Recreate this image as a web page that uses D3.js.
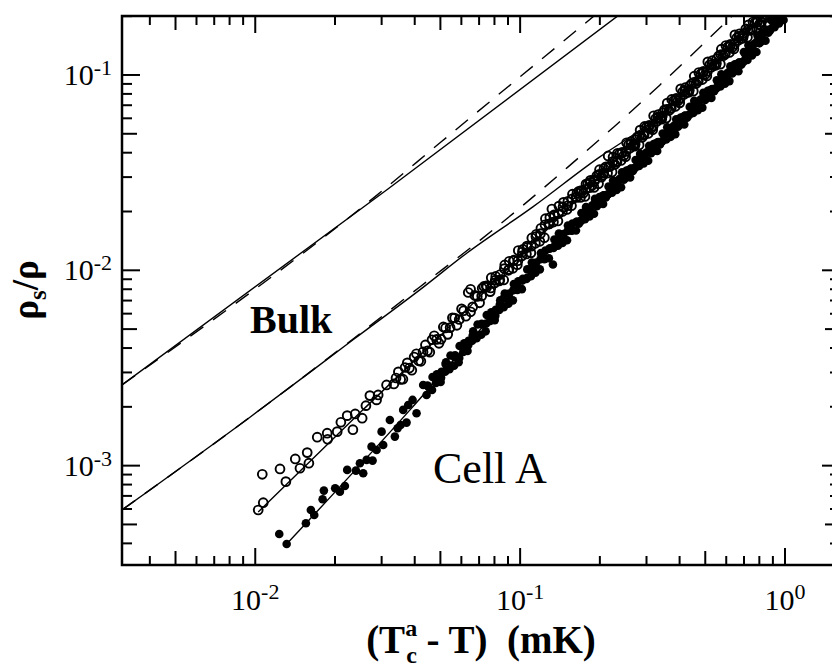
<!DOCTYPE html>
<html>
<head>
<meta charset="utf-8">
<script src="https://cdn.jsdelivr.net/npm/d3@7"></script>
<style>
  body { margin: 0; background: #fff; }
  text { font-family: "Liberation Serif", "Times New Roman", serif; fill: #000; }
</style>
</head>
<body>
<div id="chart"></div>
<script>
// Tick labels (decades only, as superscripted powers of ten)
const xMajor = [0.01, 0.1, 1];
const xExp = ["-2", "-1", "0"];
const yMajor = [0.001, 0.01, 0.1];
const yExp = ["-3", "-2", "-1"];

// Theory curves, [T - T_c (mK), rho_s/rho]
const bulkSolid = [[0.00314, 0.00259], [0.0316, 0.0260], [0.233, 0.200]];
const bulkDashed = [[0.00314, 0.00259], [0.0282, 0.0237], [0.0501, 0.0452], [0.0794, 0.0757], [0.1259, 0.1265],
  [0.1914, 0.202]];
const cellSolid = [[0.00314, 5.93e-4], [0.00955, 1.77e-3], [0.0234, 4.41e-3], [0.0418, 7.94e-3], [0.0630, 0.01227],
  [0.1117, 0.02113], [0.200, 0.0381], [0.278, 0.0512], [0.40, 0.0745]];
const cellDashed = [[0.00314, 5.93e-4], [0.00955, 1.77e-3], [0.0234, 4.45e-3], [0.0418, 8.22e-3], [0.0705, 0.01423],
  [0.106, 0.02234], [0.151, 0.03365], [0.2275, 0.0547], [0.3365, 0.0887], [0.481, 0.1403], [0.63, 0.200]];

// fits through the two data sets
const openFit = [[0.01026, 5.79e-4], [0.0255, 1.93e-3], [0.0503, 0.00467], [0.1020, 0.0121], [0.2066, 0.0315],
  [0.4025, 0.0774], [0.8482, 0.205]];
const filledFit = [[0.01314, 3.97e-4], [0.0384, 1.93e-3], [0.0745, 0.00539], [0.1291, 0.0126], [0.2417, 0.0292],
  [0.5094, 0.0787], [0.9542, 0.199]];

// measured points (open circles)
const openPts = [
  // sparse low end
  [0.01026,5.93e-4],[0.01072,6.46e-4],[0.01063,9.03e-4],[0.01240,9.62e-4],[0.01305,8.28e-4],[0.01416,1.082e-3],
  [0.01475,9.70e-4],[0.01571,1.166e-3],[0.01594,1.029e-3],[0.01714,1.398e-3],[0.01869,1.466e-3],[0.01876,1.365e-3],
  [0.02039,1.493e-3],[0.02105,1.668e-3],[0.02224,1.803e-3],[0.02337,1.528e-3],[0.02384,1.839e-3],[0.02533,1.749e-3],
  [0.02617,2.028e-3],[0.02709,2.283e-3],[0.02871,2.170e-3],[0.02911,2.301e-3],[0.03131,2.589e-3],[0.03337,2.620e-3],
  // main run
  [0.0340,0.00281],[0.0354,0.00276],[0.0368,0.00318],[0.0382,0.00316],[0.0398,0.00360],[0.0414,0.00344],[0.0430,0.00382],
  [0.0447,0.00387],[0.0465,0.00441],[0.0484,0.00443],[0.0503,0.00444],[0.0523,0.00507],[0.0544,0.00509],[0.0566,0.00570],
  [0.0589,0.00560],[0.0612,0.00621],[0.0637,0.00770],[0.0650,0.00800],[0.0662,0.00650],[0.0689,0.00735],[0.0716,0.00738],
  [0.0745,0.00833],[0.0775,0.00812],[0.0806,0.00891],[0.0838,0.00893],[0.0872,0.0102],[0.0907,0.0101],[0.0943,0.0112],
  [0.0981,0.0112],[0.1020,0.0124],[0.1061,0.0133],[0.1103,0.0133],[0.1147,0.0149],[0.1193,0.0154],[0.1241,0.0171],
  [0.1291,0.0173],[0.1318,0.0206],[0.1342,0.0192],[0.1396,0.0195],[0.1452,0.0211],[0.1510,0.0214],[0.1570,0.0232],
  [0.1633,0.0236],[0.1666,0.0254],[0.1698,0.0256],[0.1732,0.0248],[0.1766,0.0260],[0.1801,0.0277],[0.1837,0.0282],
  [0.1874,0.0273],[0.1910,0.0286],[0.1948,0.0305],[0.1987,0.0310],[0.2027,0.0300],[0.2066,0.0315],[0.2107,0.0339],
  [0.2149,0.0385],[0.2192,0.0341],[0.2235,0.0360],[0.2280,0.0348],[0.2324,0.0362],[0.2370,0.0394],[0.2417,0.0397],
  [0.2465,0.0387],[0.2514,0.0406],[0.2564,0.0438],[0.2615,0.0445],[0.2667,0.0435],[0.2719,0.0442],[0.2773,0.0482],
  [0.2828,0.0490],[0.2884,0.0479],[0.2941,0.0497],[0.3000,0.0541],[0.3059,0.0540],[0.3120,0.0532],[0.3181,0.0547],
  [0.3245,0.0596],[0.3308,0.0606],[0.3374,0.0598],[0.3441,0.0614],[0.3510,0.0663],[0.3578,0.0667],[0.3650,0.0658],
  [0.3722,0.0676],[0.3796,0.0737],[0.3870,0.0742],[0.3947,0.0739],[0.4025,0.0759],[0.4106,0.0819],[0.4186,0.0833],
  [0.4270,0.0813],[0.4354,0.0835],[0.4441,0.0902],[0.4528,0.0917],[0.4619,0.0904],[0.4709,0.0938],[0.4803,0.1012],
  [0.4898,0.1029],[0.4996,0.1005],[0.5094,0.1043],[0.5196,0.1126],[0.5297,0.1133],[0.5403,0.1117],[0.5509,0.1148],
  [0.5619,0.1251],[0.5730,0.1273],[0.5845,0.1255],[0.5959,0.1290],[0.6078,0.1392],[0.6197,0.1401],[0.6321,0.1381],
  [0.6445,0.1434],[0.6574,0.1547],[0.6703,0.1573],[0.6837,0.1536],[0.6971,0.1593],[0.7110,0.1720],[0.7250,0.1700],
  [0.7395,0.1690],[0.7540,0.1720],[0.7691,0.1850],[0.7842,0.1870],[0.7999,0.1820],[0.8155,0.1870],[0.8318,0.2000],
  [0.8482,0.2030],[0.8822,0.2122],
  // scatter on either side of the run
  [0.0347,0.00302],[0.0361,0.00277],[0.0375,0.00336],[0.0390,0.00308],[0.0406,0.00374],[0.0422,0.00342],
  [0.0439,0.00415],[0.0456,0.00381],[0.0474,0.00462],[0.0494,0.00423],[0.0513,0.00513],[0.0533,0.00470],
  [0.0555,0.00571],[0.0577,0.00523],[0.0601,0.00635],[0.0624,0.00582],[0.0650,0.00613],[0.0675,0.00744],
  [0.0703,0.00682],[0.0730,0.00827],
  [0.0719,0.00809],[0.0771,0.00778],[0.0748,0.00820],[0.0802,0.00862],[0.0778,0.00917],[0.0834,0.00882],
  [0.0809,0.00930],[0.0867,0.00893],[0.0841,0.00951],[0.0903,0.01000],[0.0875,0.01065],[0.0939,0.01024],
  [0.0910,0.01112],[0.0976,0.01068],[0.0947,0.01127],[0.1015,0.01185],[0.0984,0.01262],[0.1056,0.01213],
  [0.1024,0.01279],[0.1098,0.01228],[0.1064,0.01308],[0.1142,0.01375],[0.1107,0.01464],[0.1187,0.01407],
  [0.1151,0.01529],[0.1235,0.01469],[0.1198,0.01642],[0.1284,0.01725],[0.1246,0.01837],[0.1336,0.01766],
  [0.1295,0.01862],[0.1389,0.01788],[0.1347,0.01905],[0.1445,0.02003],[0.1401,0.02132],[0.1503,0.02049],
  [0.1457,0.02228],[0.1563,0.02140],[0.1515,0.02256],[0.1625,0.02371],[0.1576,0.02453],[0.1690,0.02359],
  [0.1639,0.02487],[0.1757,0.02388],[0.1704,0.02519],[0.1828,0.02649],[0.1773,0.02765],[0.1901,0.02657],
  [0.1843,0.02887],[0.1977,0.02773],[0.1917,0.02924],[0.2057,0.03074],[0.1994,0.03273],[0.2138,0.03147],
  [0.2074,0.03318],[0.2224,0.03185],[0.2157,0.03393],[0.2313,0.03568],[0.2243,0.03800],[0.2405,0.03652],
  [0.2332,0.03967],[0.2502,0.03811],[0.2426,0.04019],[0.2602,0.04224],[0.2523,0.04497],[0.2707,0.04324],
  [0.2624,0.04559],[0.2814,0.04377],[0.2729,0.04663],[0.2927,0.04903],[0.2838,0.05221],[0.3044,0.05018],
  [0.2952,0.05452],[0.3166,0.05238],[0.3070,0.05522],[0.3292,0.05804],[0.3192,0.06180],[0.3424,0.05942],
  [0.3321,0.06265],[0.3561,0.06014],[0.3453,0.06408],[0.3703,0.06738],[0.3592,0.07175],[0.3852,0.06896],
  [0.3735,0.07492],[0.4005,0.07198],[0.3884,0.07589],[0.4166,0.07976],[0.4039,0.08493],[0.4333,0.08166],
  [0.4202,0.08610],[0.4506,0.08266],[0.4370,0.08806],[0.4686,0.09260],[0.4544,0.09859],[0.4874,0.09476],
  [0.4727,0.1029],[0.5069,0.09888],[0.4916,0.1043],[0.5272,0.1096],[0.5112,0.1167],[0.5482,0.1122],
  [0.5316,0.1183],[0.5702,0.1136],[0.5529,0.1211],[0.5931,0.1273],[0.5750,0.1355],[0.6168,0.1303],
  [0.5980,0.1415],[0.6414,0.1359],[0.6219,0.1434],[0.6671,0.1507],[0.6468,0.1604],[0.6938,0.1542],
  [0.6727,0.1626],[0.7215,0.1561],[0.6996,0.1631],[0.7504,0.1714],[0.7276,0.1806],[0.7804,0.1736],
  [0.7568,0.1866],[0.8116,0.1793],[0.7870,0.1872],[0.8440,0.1967],[0.8185,0.2094],[0.8779,0.2013],
  [0.8513,0.2150],[0.9131,0.2080]];

// measured points (filled dots)
const filledPts = [
  // sparse low end
  [0.01232,4.47e-4],[0.01314,3.97e-4],[0.01553,5.07e-4],[0.01622,5.93e-4],[0.01670,5.59e-4],[0.01796,6.73e-4],
  [0.01816,7.45e-4],[0.02003,7.66e-4],[0.02087,7.36e-4],[0.02180,7.87e-4],[0.02224,9.51e-4],[0.02399,9.43e-4],
  [0.02556,9.14e-4],[0.02484,1.029e-3],[0.02633,1.070e-3],[0.02773,1.061e-3],[0.02749,1.251e-3],[0.02871,1.203e-3],
  [0.02999,1.493e-3],[0.03041,1.276e-3],[0.03223,1.714e-3],[0.03366,1.408e-3],[0.03447,1.554e-3],[0.03538,1.616e-3],
  [0.03726,1.661e-3],[0.03618,1.929e-3],[0.03780,2.045e-3],[0.03926,2.170e-3],[0.04064,1.854e-3],[0.04305,2.589e-3],
  [0.04433,2.301e-3],
  // main run
  [0.0447,0.00257],[0.0465,0.00244],[0.0484,0.00284],[0.0503,0.00282],[0.0523,0.00331],[0.0544,0.00325],[0.0566,0.00359],
  [0.0589,0.00356],[0.0612,0.00414],[0.0637,0.00414],[0.0662,0.00463],[0.0689,0.00463],[0.0716,0.00533],[0.0745,0.00534],
  [0.0775,0.00585],[0.0806,0.00585],[0.0838,0.00667],[0.0872,0.00729],[0.0907,0.00716],[0.0943,0.00792],[0.0981,0.00801],
  [0.1020,0.00886],[0.1061,0.00914],[0.1103,0.0102],[0.1147,0.0103],[0.1193,0.0114],[0.1241,0.0115],[0.1291,0.0129],
  [0.1330,0.0107],[0.1342,0.0132],[0.1396,0.0145],[0.1452,0.0145],[0.1510,0.0159],[0.1570,0.0160],
  [0.1633,0.0177],[0.1666,0.0173],[0.1698,0.0179],[0.1732,0.0193],[0.1766,0.0196],[0.1801,0.0192],[0.1837,0.0199],
  [0.1874,0.0215],[0.1910,0.0218],[0.1948,0.0213],[0.1987,0.0221],[0.2027,0.0238],[0.2066,0.0242],[0.2107,0.0236],
  [0.2149,0.0245],[0.2192,0.0264],[0.2235,0.0269],[0.2280,0.0262],[0.2324,0.0272],[0.2370,0.0293],[0.2417,0.0298],
  [0.2465,0.0291],[0.2514,0.0302],[0.2564,0.0325],[0.2615,0.0331],[0.2667,0.0323],[0.2719,0.0335],[0.2773,0.0361],
  [0.2828,0.0367],[0.2884,0.0358],[0.2941,0.0372],[0.3000,0.0401],[0.3059,0.0407],[0.3120,0.0398],[0.3181,0.0412],
  [0.3245,0.0445],[0.3308,0.0452],[0.3374,0.0441],[0.3441,0.0458],[0.3510,0.0494],[0.3578,0.0502],[0.3650,0.0490],
  [0.3722,0.0508],[0.3796,0.0548],[0.3870,0.0557],[0.3947,0.0544],[0.4025,0.0564],[0.4106,0.0608],[0.4186,0.0618],
  [0.4270,0.0604],[0.4354,0.0626],[0.4441,0.0675],[0.4528,0.0686],[0.4619,0.0670],[0.4709,0.0695],[0.4803,0.0749],
  [0.4898,0.0762],[0.4996,0.0744],[0.5094,0.0771],[0.5196,0.0832],[0.5297,0.0845],[0.5403,0.0825],[0.5509,0.0856],
  [0.5619,0.0923],[0.5730,0.0938],[0.5845,0.0916],[0.5959,0.0950],[0.6078,0.1025],[0.6197,0.1041],[0.6321,0.1017],
  [0.6445,0.1054],[0.6574,0.1137],[0.6703,0.1156],[0.6837,0.1128],[0.6971,0.1170],[0.7110,0.1262],[0.7250,0.1309],
  [0.7395,0.1284],[0.7540,0.1337],[0.7691,0.1450],[0.7842,0.1481],[0.7999,0.1452],[0.8155,0.1514],[0.8318,0.1641],
  [0.8482,0.1675],[0.8652,0.1646],[0.8822,0.1719],[0.8998,0.1868],[0.9175,0.1912],[0.9358,0.1875],[0.9542,0.1953],
  [0.9733,0.2046],[0.9923,0.2100],
  // scatter on either side of the run
  [0.0449,2.547e-3],[0.0481,2.651e-3],[0.0467,2.845e-3],[0.0501,2.679e-3],[0.0485,2.935e-3],[0.0521,3.023e-3],
  [0.0505,3.025e-3],[0.0541,3.119e-3],[0.0525,3.381e-3],[0.0563,3.249e-3],[0.0546,3.664e-3],[0.0586,3.382e-3],
  [0.0568,3.669e-3],[0.0610,3.819e-3],[0.0591,4.098e-3],[0.0633,3.860e-3],[0.0615,4.228e-3],[0.0659,4.355e-3],
  [0.0639,4.358e-3],[0.0685,4.493e-3],[0.0665,4.871e-3],[0.0713,4.680e-3],[0.0691,5.277e-3],[0.0741,4.871e-3],
  [0.0719,5.285e-3],[0.0771,5.501e-3],[0.0748,5.903e-3],[0.0802,5.559e-3],[0.0778,6.090e-3],[0.0834,6.273e-3],
  [0.0809,6.278e-3],[0.0867,6.472e-3],[0.0841,7.016e-3],[0.0903,6.740e-3],[0.0875,7.601e-3],[0.0939,7.017e-3],
  [0.0910,7.613e-3],[0.0976,7.923e-3],[0.0947,8.503e-3],[0.1015,8.007e-3],[0.0984,8.773e-3],[0.1056,9.036e-3],
  [0.1024,9.043e-3],[0.1098,9.323e-3],[0.1064,0.01011],[0.1142,9.710e-3],[0.1107,0.01095],[0.1187,0.01011],
  [0.1151,0.01097],[0.1235,0.01141],[0.1198,0.01225],[0.1284,0.01153],[0.1246,0.01264],[0.1336,0.01302],
  [0.1295,0.01297],[0.1389,0.01337],[0.1347,0.01437],[0.1445,0.01381],[0.1401,0.01543],[0.1503,0.01425],
  [0.1457,0.01532],[0.1563,0.01594],[0.1515,0.01696],[0.1625,0.01598],[0.1576,0.01735],[0.1690,0.01787],
  [0.1639,0.01773],[0.1757,0.01828],[0.1704,0.01965],[0.1828,0.01887],[0.1773,0.02110],[0.1901,0.01948],
  [0.1843,0.02094],[0.1977,0.02180],[0.1917,0.02320],[0.2057,0.02184],[0.1994,0.02372],[0.2138,0.02443],
  [0.2074,0.02424],[0.2224,0.02499],[0.2157,0.02686],[0.2313,0.02580],[0.2243,0.02885],[0.2405,0.02663],
  [0.2332,0.02864],[0.2502,0.02980],[0.2426,0.03171],[0.2602,0.02987],[0.2523,0.03243],[0.2707,0.03340],
  [0.2624,0.03314],[0.2814,0.03417],[0.2729,0.03672],[0.2927,0.03528],[0.2838,0.03944],[0.3044,0.03640],
  [0.2952,0.03915],[0.3166,0.04075],[0.3070,0.04335],[0.3292,0.04083],[0.3192,0.04434],[0.3424,0.04567],
  [0.3321,0.04531],[0.3561,0.04671],[0.3453,0.05019],[0.3703,0.04823],[0.3592,0.05392],[0.3852,0.04978],
  [0.3735,0.05353],[0.4005,0.05571],[0.3884,0.05927],[0.4166,0.05581],[0.4039,0.06062],[0.4333,0.06244],
  [0.4202,0.06195],[0.4506,0.06387],[0.4370,0.06863],[0.4686,0.06593],[0.4544,0.07372],[0.4874,0.06804],
  [0.4727,0.07319],[0.5069,0.07617],[0.4916,0.08103],[0.5272,0.07631],[0.5112,0.08288],[0.5482,0.08537],
  [0.5316,0.08470],[0.5702,0.08732],[0.5529,0.09383],[0.5931,0.09015],[0.5750,0.1008],[0.6168,0.09303],
  [0.5980,0.1001],[0.6414,0.1041],[0.6219,0.1108],[0.6671,0.1044],[0.6468,0.1133],[0.6938,0.1167],
  [0.6727,0.1158],[0.7215,0.1194],[0.6996,0.1309],[0.7504,0.1257],[0.7276,0.1420],[0.7804,0.1310],
  [0.7568,0.1423],[0.8116,0.1481],[0.7870,0.1591],[0.8440,0.1499],[0.8185,0.1642],[0.8779,0.1691],
  [0.8513,0.1701],[0.9131,0.1754],[0.8854,0.1913],[0.9496,0.1838],[0.9208,0.2073],[0.9876,0.1913],
  [0.9576,0.2058],[1.027,0.2142]];

let width = 832;
let height = 668;

// plot box (right edge runs a bit past the window, like the scan)
const plotL = 122, plotT = 16, plotR = 840, plotB = 565;

const svg = d3.select("#chart")
  .append("svg")
  .attr("width", width)
  .attr("height", height);

const x = d3.scaleLog().domain([0.00314, 1.613]).range([plotL, plotR]);
const y = d3.scaleLog().domain([3.10e-4, 0.2004]).range([plotB, plotT]);

svg.append("clipPath").attr("id", "plotClip")
  .append("rect")
  .attr("x", plotL).attr("y", plotT)
  .attr("width", plotR - plotL).attr("height", plotB - plotT);

const plot = svg.append("g").attr("clip-path", "url(#plotClip)");

const line = d3.line()
  .x(d => x(d[0]))
  .y(d => y(d[1]))
  .curve(d3.curveMonotoneX);

// theory lines
function drawLine(data, dashed) {
  plot.append("path")
    .attr("d", line(data))
    .attr("fill", "none")
    .attr("stroke", "#000")
    .attr("stroke-width", 1.4)
    .attr("stroke-dasharray", dashed ? "16,12" : null);
}
drawLine(bulkSolid, false);
drawLine(bulkDashed, true);
drawLine(cellSolid, false);
drawLine(cellDashed, true);

plot.selectAll(".filled")
  .data(filledPts)
  .enter()
  .append("circle")
  .attr("class", "filled")
  .attr("cx", d => x(d[0]))
  .attr("cy", d => y(d[1]))
  .attr("r", 4.3)
  .attr("fill", "#000");

// open circles are hollow (no fill), so dense runs go black
plot.selectAll(".open")
  .data(openPts)
  .enter()
  .append("circle")
  .attr("class", "open")
  .attr("cx", d => x(d[0]))
  .attr("cy", d => y(d[1]))
  .attr("r", 4.4)
  .attr("fill", "none")
  .attr("stroke", "#000")
  .attr("stroke-width", 1.9);

drawLine(openFit, false);
drawLine(filledFit, false);

// frame
svg.append("rect")
  .attr("x", plotL).attr("y", plotT)
  .attr("width", plotR - plotL).attr("height", plotB - plotT)
  .attr("fill", "none")
  .attr("stroke", "#000")
  .attr("stroke-width", 2.5);

// tick length depends on the mantissa: 1 -> long, 5 -> medium, rest -> short
function tickLen(v) {
  const m = Math.round(v / Math.pow(10, Math.floor(Math.log10(v) + 1e-9)));
  return m === 1 ? 17 : (m === 5 ? 14 : 9);
}

const ticks = svg.append("g").attr("stroke", "#000").attr("stroke-width", 2);

x.ticks().forEach(function(v) {
  const px = x(v);
  const len = tickLen(v);
  ticks.append("line").attr("x1", px).attr("x2", px).attr("y1", plotB).attr("y2", plotB - len);
  ticks.append("line").attr("x1", px).attr("x2", px).attr("y1", plotT).attr("y2", plotT + len);
});

y.ticks().forEach(function(v) {
  const py = y(v);
  const len = tickLen(v) + 1;
  ticks.append("line").attr("x1", plotL).attr("x2", plotL + len).attr("y1", py).attr("y2", py);
  ticks.append("line").attr("x1", plotR).attr("x2", plotR - len).attr("y1", py).attr("y2", py);
});

// x tick labels
xMajor.forEach(function(v, i) {
  const t = svg.append("text")
    .attr("x", x(v))
    .attr("y", 610)
    .attr("text-anchor", "middle")
    .style("font-size", "30px");
  t.append("tspan").text("10");
  t.append("tspan").attr("dy", -11).style("font-size", "22px").text(xExp[i]);
});

// y tick labels
yMajor.forEach(function(v, i) {
  const t = svg.append("text")
    .attr("x", 112)
    .attr("y", y(v) + 10)
    .attr("text-anchor", "end")
    .style("font-size", "30px");
  t.append("tspan").text("10");
  t.append("tspan").attr("dy", -10).style("font-size", "22px").text(yExp[i]);
});

// axis titles
const xt = svg.append("text")
  .attr("x", 481)
  .attr("y", 653)
  .attr("text-anchor", "middle")
  .style("font-size", "39px")
  .style("font-weight", "bold");
xt.append("tspan").text("(T");
xt.append("tspan").attr("dy", -17).style("font-size", "24px").text("a");
xt.append("tspan").attr("dx", -11).attr("dy", 27).style("font-size", "24px").text("c");
xt.append("tspan").attr("dy", -10).text(" - T)\u00a0\u00a0(mK)");

const yt = svg.append("text")
  .attr("transform", "translate(38,290) rotate(-90)")
  .attr("text-anchor", "middle")
  .style("font-size", "37px")
  .style("font-weight", "bold");
yt.append("tspan").text("\u03c1");
yt.append("tspan").attr("dy", 8).style("font-size", "25px").text("s");
yt.append("tspan").attr("dy", -8).text("/\u03c1");

// in-plot labels
svg.append("text")
  .attr("x", 250).attr("y", 333)
  .style("font-size", "40px")
  .style("font-weight", "bold")
  .text("Bulk");

svg.append("text")
  .attr("x", 433).attr("y", 483)
  .style("font-size", "44px")
  .text("Cell A");
</script>
</body>
</html>
